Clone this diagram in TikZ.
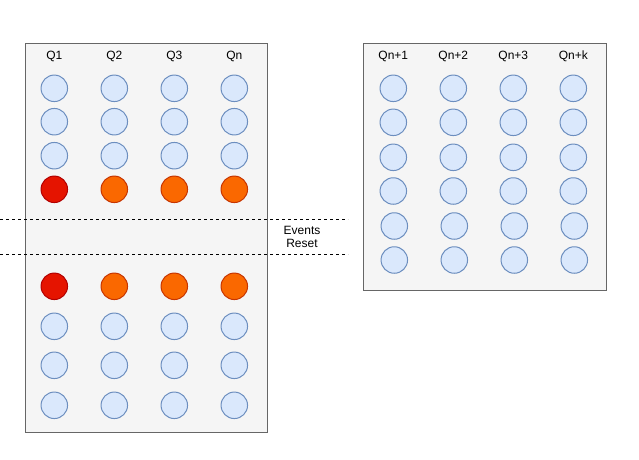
\documentclass[tikz,border=0pt]{standalone}
\usepackage{fontspec}
\setmainfont{Liberation Sans}
\begin{document}
\begin{tikzpicture}[x=1pt,y=-1pt,
  panel/.style={draw=panelline,fill=panelfill,line width=1pt},
  qcirc/.style={circle,draw=qline,fill=qfill,line width=1pt,minimum size=26.5pt,inner sep=0pt},
  redc/.style={qcirc,draw=redline,fill=redfill},
  orc/.style={qcirc,draw=orline,fill=orfill},
  lbl/.style={font=\fontsize{12}{14}\selectfont,inner sep=0pt},
  sep/.style={draw=black,line width=0.8pt,dash pattern=on 3pt off 3pt}]
\definecolor{panelline}{HTML}{666666}
\definecolor{panelfill}{HTML}{F5F5F5}
\definecolor{qline}{HTML}{6C8EBF}
\definecolor{qfill}{HTML}{DAE8FC}
\definecolor{redline}{HTML}{B20000}
\definecolor{redfill}{HTML}{E51400}
\definecolor{orline}{HTML}{C73500}
\definecolor{orfill}{HTML}{FA6800}
\useasboundingbox (0,0) rectangle (639,459);
% panels
\node[panel,minimum width=242pt,minimum height=389pt,inner sep=0pt,anchor=north west] (left) at (24.5,42.5) {};
\node[panel,minimum width=243pt,minimum height=247pt,inner sep=0pt,anchor=north west] (right) at (363,42.5) {};
% labels left
\foreach \x/\t [count=\i] in {54.3/Q1,114.3/Q2,174.3/Q3,234.3/Qn} {
  \node[lbl] (lt\i) at (\x,56.7) {\t};
}
% left upper circles
\foreach \x [count=\i] in {54.3,114.3,174.3,234.3} {
  \foreach \y [count=\j] in {88.3,121.7,155.7} {
    \node[qcirc] (lu\i\j) at (\x,\y) {};
  }
  \foreach \y [count=\j] in {326.3,365.3,405.3} {
    \node[qcirc] (ll\i\j) at (\x,\y) {};
  }
}
\node[redc] (ra1) at (54.3,189.3) {};
\node[orc] (oa2) at (114.3,189.3) {};
\node[orc] (oa3) at (174.3,189.3) {};
\node[orc] (oa4) at (234.3,189.3) {};
\node[redc] (rb1) at (54.3,286.3) {};
\node[orc] (ob2) at (114.3,286.3) {};
\node[orc] (ob3) at (174.3,286.3) {};
\node[orc] (ob4) at (234.3,286.3) {};
% separators
\coordinate (s1a) at (0,219.3);
\coordinate (s1b) at (348,219.3);
\coordinate (s2a) at (0,254);
\coordinate (s2b) at (348,254);
\draw[sep] (s1a) -- (s1b);
\draw[sep] (s2a) -- (s2b);
\node[lbl] (ev) at (302,230) {Events};
\node[lbl] (rs) at (302,243.5) {Reset};
% right labels
\foreach \x/\t [count=\i] in {393.3/Qn+1,453.3/Qn+2,513.3/Qn+3,573.3/Qn+k} {
  \node[lbl] (rt\i) at (\x,56.7) {\t};
}
\foreach \x [count=\i] in {393.3,453.3,513.3,573.3} {
  \foreach \y [count=\j] in {88.3,122.3,157.3,191} {
    \node[qcirc] (rc\i\j) at (\x,\y) {};
  }
  \foreach \y [count=\j] in {226,260} {
    \node[qcirc] (rd\i\j) at (\x+1,\y) {};
  }
}
\end{tikzpicture}
\end{document}
